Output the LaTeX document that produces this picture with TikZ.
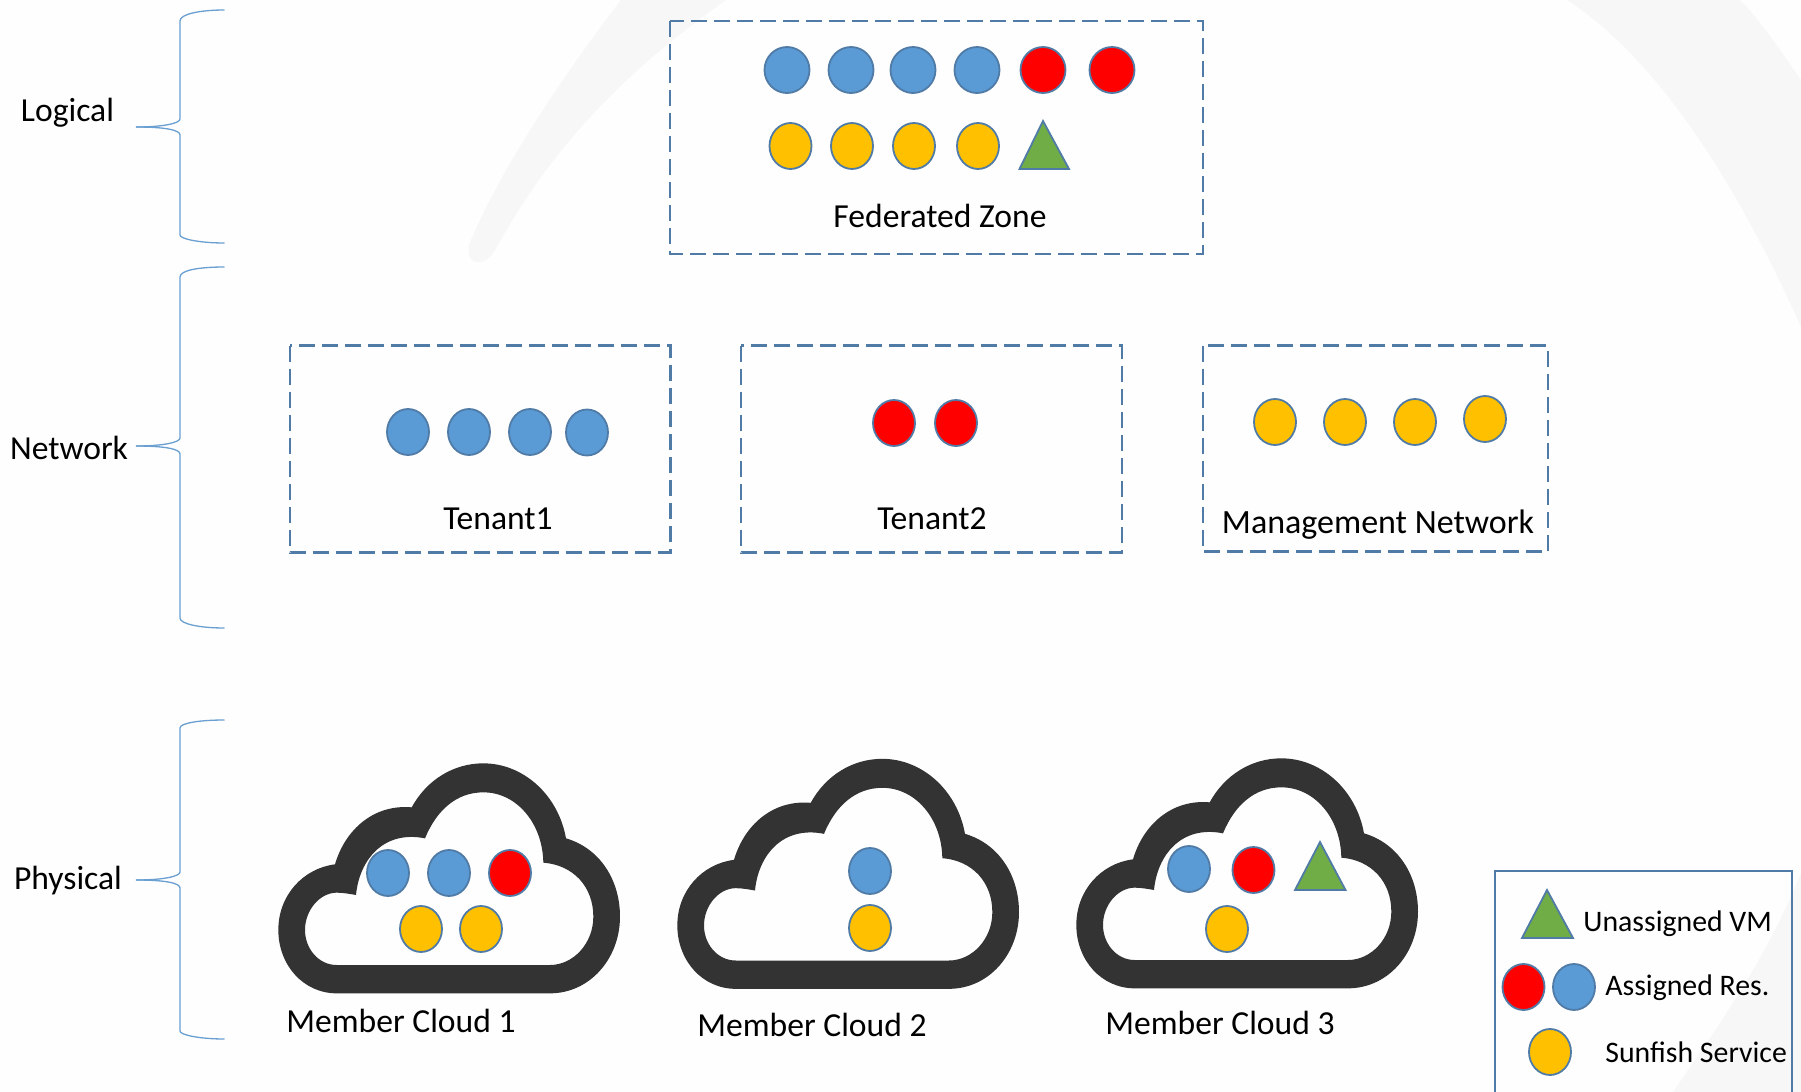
\documentclass[tikz,border=0pt]{standalone}
\usepackage{fontspec}
\setmainfont{Carlito}
\usetikzlibrary{shapes.geometric}
\definecolor{bgc}{HTML}{FEFEFE}
\definecolor{wmark}{HTML}{F7F7F7}
\definecolor{dotblue}{HTML}{5B9BD5}
\definecolor{dotred}{HTML}{FF0000}
\definecolor{dotyellow}{HTML}{FFC000}
\definecolor{dotgreen}{HTML}{70AD47}
\definecolor{edgeblue}{HTML}{4F7BA6}
\definecolor{bracec}{HTML}{6A9FD2}
\definecolor{cloudc}{HTML}{333333}
\tikzset{
  x=0.5pt,y=-0.5pt,
  dot/.style={ellipse,draw=edgeblue,line width=0.9pt,inner sep=0pt,outer sep=0pt,minimum width=21pt,minimum height=23pt},
  wide/.style={minimum width=22.5pt},
  bdot/.style={dot,fill=dotblue},
  rdot/.style={dot,fill=dotred},
  ydot/.style={dot,fill=dotyellow},
  vmtri/.style={draw=edgeblue,fill=dotgreen,line width=0.9pt,line join=miter},
  zone/.style={draw=edgeblue,line width=1.05pt,dash pattern=on 8pt off 3.5pt},
  bracel/.style={draw=bracec,line width=0.65pt},
  lab/.style={inner sep=0pt,font=\fontsize{16.8}{20}\selectfont},
  leglab/.style={inner sep=0pt,anchor=west,font=\fontsize{14.9}{18}\selectfont},
  cloudicon/.pic={
    \fill[cloudc,even odd rule,scale=1/3]
      (260,790) .. controls (160,790) and (85,705) .. (85,600)
      .. controls (85,495) and (160,415) .. (255,403)
      .. controls (285,300) and (370,222) .. (485,232)
      .. controls (530,150) and (610,100) .. (700,100)
      .. controls (820,100) and (925,195) .. (948,325)
      .. controls (1050,355) and (1110,450) .. (1110,560)
      .. controls (1110,685) and (1020,790) .. (900,790) -- cycle
      (260,705) .. controls (205,705) and (165,655) .. (165,600)
      .. controls (165,540) and (210,488) .. (260,488)
      .. controls (280,488) and (300,492) .. (318,495)
      .. controls (328,390) and (400,300) .. (525,325)
      .. controls (560,240) and (620,187) .. (700,187)
      .. controls (800,187) and (878,280) .. (880,398)
      .. controls (970,405) and (1030,470) .. (1030,560)
      .. controls (1030,640) and (970,705) .. (900,705) -- cycle;
  },
}
\begin{document}
\begin{tikzpicture}
\useasboundingbox (0,0) rectangle (1801,1092);
\fill[bgc] (0,0) rectangle (1801,1092);
% watermark
\fill[wmark] (621,0) .. controls (560,80) and (500,170) .. (469,245)
  .. controls (465,266) and (485,268) .. (495,250)
  .. controls (550,150) and (620,75) .. (726,0) -- cycle;
\fill[wmark] (1567,0) .. controls (1660,60) and (1740,190) .. (1801,327)
  -- (1801,80) .. controls (1780,50) and (1760,20) .. (1740,0) -- cycle;
\fill[wmark] (1801,873) .. controls (1770,950) and (1730,1010) .. (1673,1092) -- (1801,1092) -- cycle;
% braces
\draw[bracel] (224.5,10) .. controls (200,10) and (180,14) .. (180,21) -- (180,119) .. controls (180,123) and (165,127) .. (136,127);
\draw[bracel] (136,127) .. controls (165,127) and (180,130) .. (180,135) -- (180,235) .. controls (180,239) and (200,243) .. (224.5,243);
\draw[bracel] (224.5,267) .. controls (200,267) and (180,270) .. (180,277) -- (180,438) .. controls (180,442) and (165,446) .. (136,446);
\draw[bracel] (136,446) .. controls (165,446) and (180,449) .. (180,454) -- (180,618) .. controls (180,624) and (200,628) .. (224.5,628);
\draw[bracel] (224.5,720) .. controls (200,720) and (180,723) .. (180,728) -- (180,872) .. controls (180,876) and (165,880) .. (136,880);
\draw[bracel] (136,880) .. controls (165,880) and (180,883) .. (180,888) -- (180,1031) .. controls (180,1035) and (200,1039) .. (224.5,1039);
\node[lab] (logical) at (67.5,112.5) {Logical};
\node[lab] (network) at (69,448) {Network};
\node[lab] (physical) at (68,881) {Physical};
% zones
\draw[zone] (670,21) rectangle (1203,254);
\draw[zone] (290,345.5) rectangle (670.5,552.5);
\draw[zone] (741,345.5) rectangle (1122,552.5);
\draw[zone] (1203,345.5) rectangle (1548,551.5);
% federated
\node[bdot,wide] (f1) at (787,70) {};
\node[bdot,wide] (f2) at (851,70) {};
\node[bdot,wide] (f3) at (913,70) {};
\node[bdot,wide] (f4) at (977,70) {};
\node[rdot,wide] (f5) at (1043,70) {};
\node[rdot,wide] (f6) at (1112,70) {};
\node[ydot] (g1) at (790.5,146) {};
\node[ydot] (g2) at (852,146) {};
\node[ydot] (g3) at (914,146) {};
\node[ydot] (g4) at (978,146) {};
\draw[vmtri] (1043,121) -- (1019.5,169) -- (1069,169) -- cycle;
\node[lab] (fz) at (940,216) {Federated Zone};
% tenant
\node[bdot] (t1) at (408,432) {};
\node[bdot] (t2) at (469,432) {};
\node[bdot] (t3) at (530,432) {};
\node[bdot] (t4) at (587,432.5) {};
\node[lab] (t1l) at (498,519) {Tenant1};
\node[rdot] (u1) at (894,423) {};
\node[rdot] (u2) at (956,423) {};
\node[lab] (t2l) at (932,519) {Tenant2};
\node[ydot] (m1) at (1275,422) {};
\node[ydot] (m2) at (1345,422) {};
\node[ydot] (m3) at (1415,422) {};
\node[ydot] (m4) at (1485,419) {};
\node[lab,font=\fontsize{17}{20}\selectfont] (ml) at (1378,525) {Management Network};
% clouds
\pic (c1) at (250,730) {cloudicon};
\pic (c2) at (649,725.5) {cloudicon};
\pic (c3) at (1048,725) {cloudicon};
\node[bdot] (a1) at (388,873) {};
\node[bdot] (a2) at (449,873) {};
\node[rdot] (a3) at (510,873) {};
\node[ydot] (a4) at (421,929) {};
\node[ydot] (a5) at (481,929) {};
\node[lab] (a6) at (401,1021) {Member Cloud 1};
\node[bdot] (b1) at (870,871) {};
\node[ydot] (b2) at (870,928) {};
\node[lab] (b3) at (812,1025) {Member Cloud 2};
\node[bdot] (d1) at (1189,869) {};
\node[rdot] (d2) at (1253.5,870) {};
\draw[vmtri] (1320,842) -- (1295,890) -- (1345.5,890) -- cycle;
\node[ydot] (d3) at (1227,929) {};
\node[lab] (d4) at (1220,1023) {Member Cloud 3};
% legend
\draw[draw=edgeblue,line width=0.9pt] (1495,1092) -- (1495,871) -- (1792,871) -- (1792,1092);
\draw[vmtri] (1547,890) -- (1522,938) -- (1573,938) -- cycle;
\node[rdot] (k1) at (1523.5,987) {};
\node[bdot] (k2) at (1574,987) {};
\node[ydot] (k3) at (1550,1052) {};
\node[leglab] (l1) at (1583,924) {Unassigned VM};
\node[leglab] (l2) at (1605,988) {Assigned Res.};
\node[leglab] (l3) at (1605,1052) {Sunfish Service};
\end{tikzpicture}
\end{document}
